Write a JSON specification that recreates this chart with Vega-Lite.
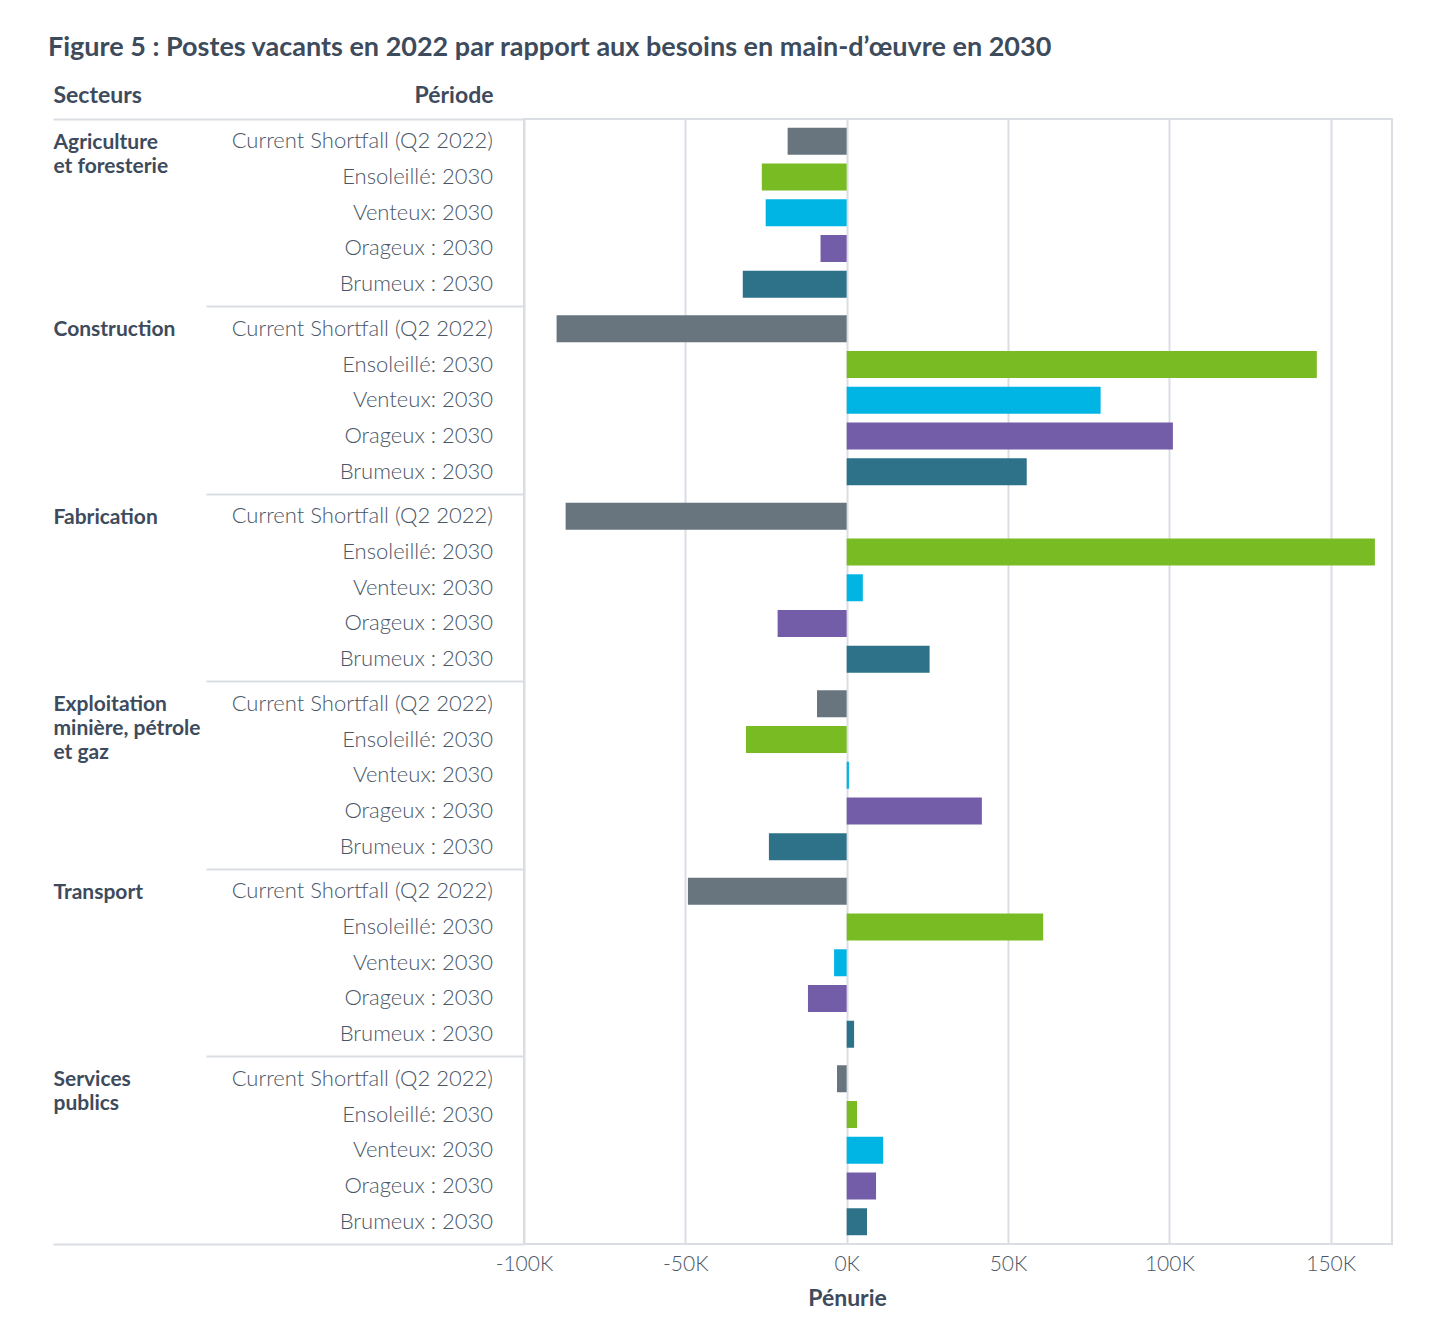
{
  "$schema": "https://vega.github.io/schema/vega-lite/v6.json",
  "background": "white",
  "padding": {"left": 48, "top": 34, "right": 10, "bottom": 10},
  "width": 868,
  "height": 1125,
  "title": {
    "text": "Figure 5 : Postes vacants en 2022 par rapport aux besoins en main-d’œuvre en 2030",
    "anchor": "start",
    "frame": "bounds",
    "dx": -4,
    "offset": 22,
    "font": "Lato",
    "fontSize": 27,
    "fontWeight": "bold",
    "color": "#3d4b5c"
  },
  "data": {
    "values": [
      {"sector": "Agriculture|et foresterie", "period": "Current Shortfall (Q2 2022)", "value": -18300},
      {"sector": "Agriculture|et foresterie", "period": "Ensoleillé: 2030", "value": -26300},
      {"sector": "Agriculture|et foresterie", "period": "Venteux: 2030", "value": -25100},
      {"sector": "Agriculture|et foresterie", "period": "Orageux : 2030", "value": -8100},
      {"sector": "Agriculture|et foresterie", "period": "Brumeux : 2030", "value": -32200},
      {"sector": "Construction", "period": "Current Shortfall (Q2 2022)", "value": -89900},
      {"sector": "Construction", "period": "Ensoleillé: 2030", "value": 145700},
      {"sector": "Construction", "period": "Venteux: 2030", "value": 78700},
      {"sector": "Construction", "period": "Orageux : 2030", "value": 101100},
      {"sector": "Construction", "period": "Brumeux : 2030", "value": 55800},
      {"sector": "Fabrication", "period": "Current Shortfall (Q2 2022)", "value": -87100},
      {"sector": "Fabrication", "period": "Ensoleillé: 2030", "value": 163700},
      {"sector": "Fabrication", "period": "Venteux: 2030", "value": 5000},
      {"sector": "Fabrication", "period": "Orageux : 2030", "value": -21400},
      {"sector": "Fabrication", "period": "Brumeux : 2030", "value": 25700},
      {"sector": "Exploitation|minière, pétrole|et gaz", "period": "Current Shortfall (Q2 2022)", "value": -9200},
      {"sector": "Exploitation|minière, pétrole|et gaz", "period": "Ensoleillé: 2030", "value": -31200},
      {"sector": "Exploitation|minière, pétrole|et gaz", "period": "Venteux: 2030", "value": 700},
      {"sector": "Exploitation|minière, pétrole|et gaz", "period": "Orageux : 2030", "value": 41900},
      {"sector": "Exploitation|minière, pétrole|et gaz", "period": "Brumeux : 2030", "value": -24100},
      {"sector": "Transport", "period": "Current Shortfall (Q2 2022)", "value": -49200},
      {"sector": "Transport", "period": "Ensoleillé: 2030", "value": 60900},
      {"sector": "Transport", "period": "Venteux: 2030", "value": -3900},
      {"sector": "Transport", "period": "Orageux : 2030", "value": -12000},
      {"sector": "Transport", "period": "Brumeux : 2030", "value": 2300},
      {"sector": "Services|publics", "period": "Current Shortfall (Q2 2022)", "value": -3000},
      {"sector": "Services|publics", "period": "Ensoleillé: 2030", "value": 3200},
      {"sector": "Services|publics", "period": "Venteux: 2030", "value": 11300},
      {"sector": "Services|publics", "period": "Orageux : 2030", "value": 9100},
      {"sector": "Services|publics", "period": "Brumeux : 2030", "value": 6300}
    ]
  },
  "layer": [
    {
      "mark": {"type": "bar"},
      "encoding": {
        "y": {
          "field": "sector",
          "type": "nominal",
          "sort": ["Agriculture|et foresterie", "Construction", "Fabrication", "Exploitation|minière, pétrole|et gaz", "Transport", "Services|publics"],
          "scale": {"paddingInner": 0, "paddingOuter": 0},
          "axis": {
            "orient": "left",
            "title": "Période",
            "titleAngle": 0,
            "titleAlign": "right",
            "titleBaseline": "alphabetic",
            "titleX": -31,
            "titleY": -17,
            "titleFont": "Lato",
            "titleFontSize": 23,
            "titleFontWeight": "bold",
            "titleColor": "#3d4b5c",
            "labels": false,
            "domain": false,
            "grid": false,
            "ticks": true,
            "bandPosition": 0,
            "tickColor": "#dadee3",
            "tickWidth": 2,
            "tickSize": {"condition": {"test": "datum.value == 'Agriculture|et foresterie'", "value": 471}, "value": 318}
          }
        },
        "yOffset": {
          "field": "period",
          "type": "nominal",
          "sort": ["Current Shortfall (Q2 2022)", "Ensoleillé: 2030", "Venteux: 2030", "Orageux : 2030", "Brumeux : 2030"],
          "scale": {"paddingInner": 0.245, "paddingOuter": 0.245}
        },
        "x": {
          "field": "value",
          "type": "quantitative",
          "scale": {"domain": [-100000, 169000], "nice": false, "zero": false},
          "axis": {
            "title": "Pénurie",
            "titleX": 323,
            "titleFont": "Lato",
            "titleFontSize": 23,
            "titleFontWeight": "bold",
            "titleColor": "#3d4b5c",
            "titlePadding": 13,
            "values": [-100000, -50000, 0, 50000, 100000, 150000],
            "labelExpr": "(datum.value / 1000) + 'K'",
            "labelFont": "Lato",
            "labelFontSize": 21,
            "labelFontWeight": 300,
            "labelColor": "#4a5666",
            "labelPadding": 9,
            "labelFlush": false,
            "domain": false,
            "ticks": false,
            "grid": true,
            "gridColor": "#dadee3",
            "gridWidth": 2
          }
        },
        "color": {
          "field": "period",
          "type": "nominal",
          "scale": {
            "domain": ["Current Shortfall (Q2 2022)", "Ensoleillé: 2030", "Venteux: 2030", "Orageux : 2030", "Brumeux : 2030"],
            "range": ["#68757f", "#78bb23", "#00b4e3", "#735ca8", "#2d7289"]
          },
          "legend": null
        }
      }
    },
    {
      "mark": {"type": "text", "align": "right", "baseline": "middle", "dx": -31, "font": "Lato", "fontSize": 22, "fontWeight": 300, "color": "#4a5666"},
      "encoding": {
        "y": {
          "field": "sector",
          "type": "nominal",
          "sort": ["Agriculture|et foresterie", "Construction", "Fabrication", "Exploitation|minière, pétrole|et gaz", "Transport", "Services|publics"],
          "axis": {
            "orient": "left",
            "title": "Secteurs",
            "titleAngle": 0,
            "titleAlign": "left",
            "titleBaseline": "alphabetic",
            "titleX": -471,
            "titleY": -17,
            "titleFont": "Lato",
            "titleFontSize": 23,
            "titleFontWeight": "bold",
            "titleColor": "#3d4b5c",
            "domain": false,
            "grid": false,
            "ticks": true,
            "bandPosition": 1,
            "tickSize": 471,
            "tickWidth": 2,
            "tickColor": {"condition": {"test": "datum.value == 'Services|publics'", "value": "#dadee3"}, "value": "transparent"},
            "labels": true,
            "labelExpr": "split(datum.value, '|')",
            "labelAlign": "left",
            "labelBaseline": "top",
            "labelPadding": 0,
            "labelOffset": -81,
            "labelFont": "Lato",
            "labelFontSize": 21,
            "labelFontWeight": "bold",
            "labelColor": "#3d4b5c",
            "labelLineHeight": 24,
            "labelLimit": 0
          }
        },
        "yOffset": {
          "field": "period",
          "type": "nominal",
          "sort": ["Current Shortfall (Q2 2022)", "Ensoleillé: 2030", "Venteux: 2030", "Orageux : 2030", "Brumeux : 2030"]
        },
        "x": {"datum": -100000, "type": "quantitative"},
        "text": {"field": "period"}
      }
    }
  ],
  "resolve": {"axis": {"y": "independent"}},
  "config": {
    "view": {"stroke": "#dadee3", "strokeWidth": 2}
  }
}
